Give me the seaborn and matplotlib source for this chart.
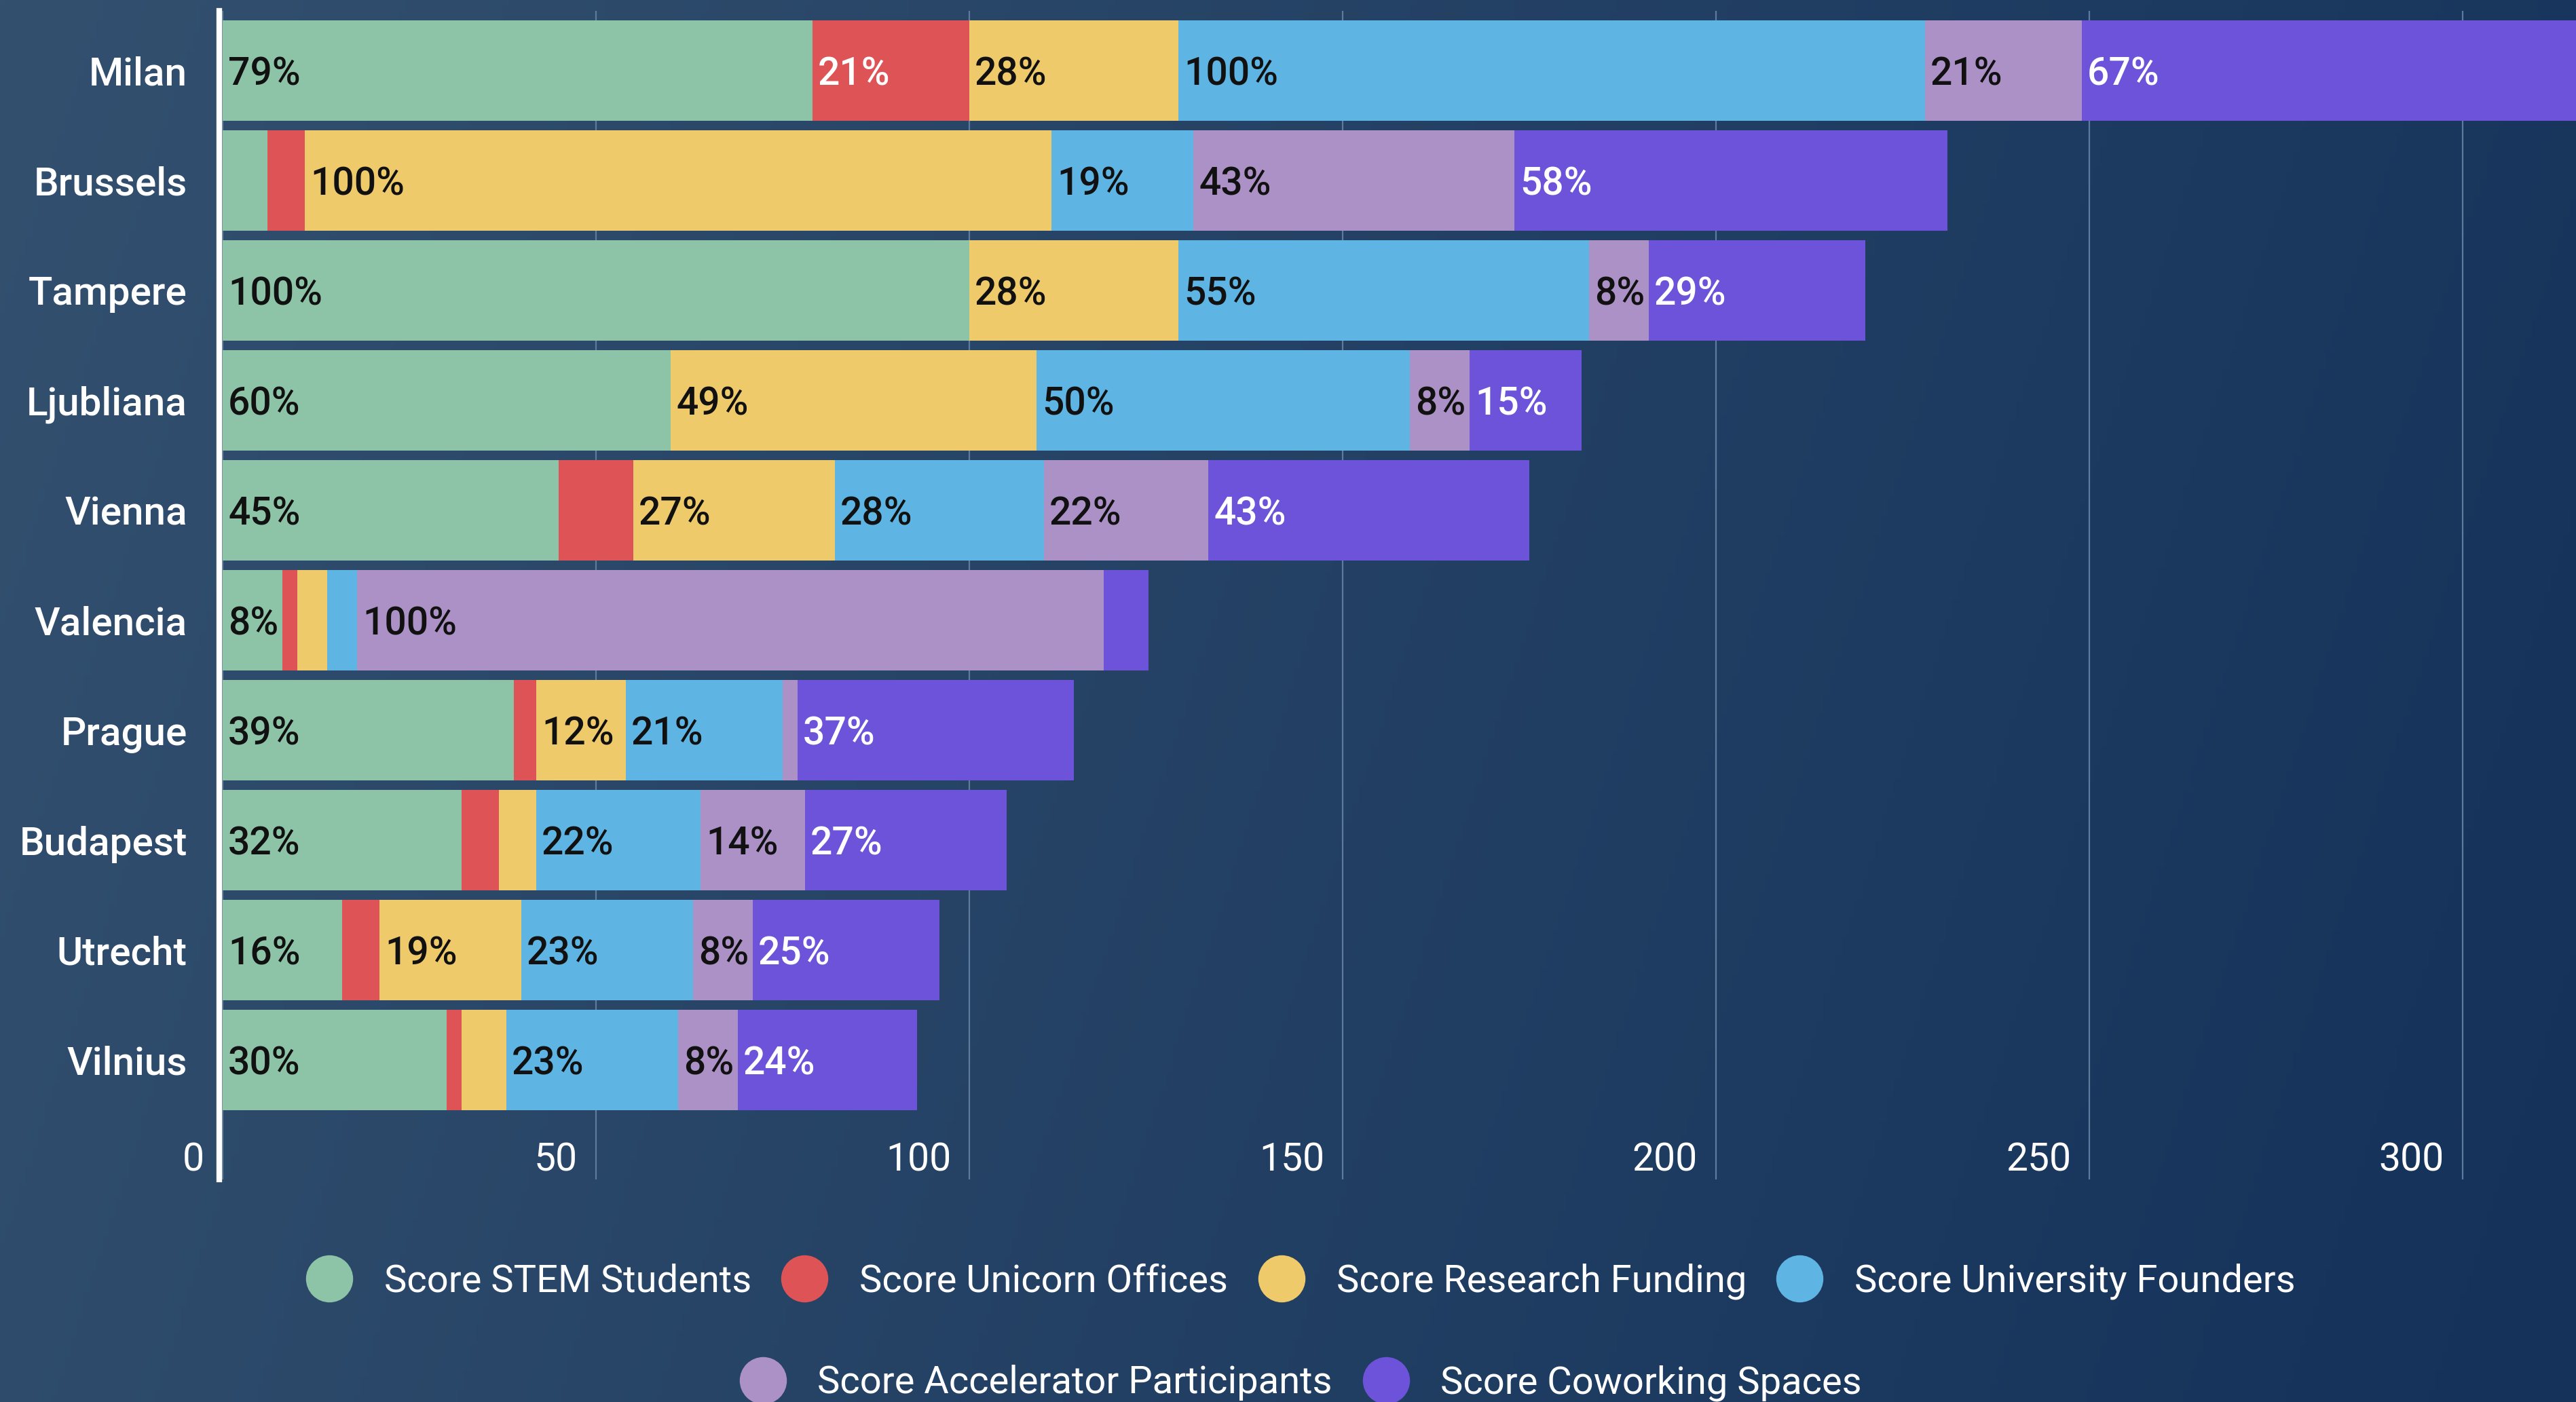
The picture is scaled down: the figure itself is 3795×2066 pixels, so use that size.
import numpy as np
import pandas as pd
import matplotlib
matplotlib.use("Agg")
import matplotlib.pyplot as plt
import seaborn as sns
from matplotlib.transforms import ScaledTranslation
from matplotlib.lines import Line2D
from matplotlib.colors import to_rgb

# ---- data -------------------------------------------------------------
cities = ["Milan", "Brussels", "Tampere", "Ljubliana", "Vienna",
          "Valencia", "Prague", "Budapest", "Utrecht", "Vilnius"]
series_names = ["Score STEM Students", "Score Unicorn Offices",
                "Score Research Funding", "Score University Founders",
                "Score Accelerator Participants", "Score Coworking Spaces"]
stem_students = [79, 6, 100, 60, 45, 8, 39, 32, 16, 30]
unicorn_offices = [21, 5, 0, 0, 10, 2, 3, 5, 5, 2]
research_funding = [28, 100, 28, 49, 27, 4, 12, 5, 19, 6]
university_founders = [100, 19, 55, 50, 28, 4, 21, 22, 23, 23]
accelerator_participants = [21, 43, 8, 8, 22, 100, 2, 14, 8, 8]
coworking_spaces = [67, 58, 29, 15, 43, 6, 37, 27, 25, 24]
x_ticks = [0, 50, 100, 150, 200, 250, 300]

# ---- style ------------------------------------------------------------
series_colors = ["#8DC3A7", "#DE5456", "#EFCA6A", "#5EB5E3", "#AB91C6", "#6C53D9"]
text_colors = ["#111111", "#ffffff", "#111111", "#111111", "#111111", "#ffffff"]

sns.set_theme(style="white")
plt.rcParams["font.family"] = ["Roboto", "DejaVu Sans"]

W, H, DPI = 3795, 2066, 200
fig = plt.figure(figsize=(W / DPI, H / DPI), dpi=DPI)

# dark blue gradient backdrop
bg = fig.add_axes([0, 0, 1, 1], zorder=-10)
gx, gy = np.meshgrid(np.linspace(0, 1, 400), np.linspace(0, 1, 220))
t = np.clip(0.85 * gx + 0.15 * gy, 0, 1)[..., None]
c0 = np.array(to_rgb("#33506F"))
c1 = np.array(to_rgb("#14325A"))
bg.imshow(c0 * (1 - t) + c1 * t, aspect="auto", extent=[0, 1, 0, 1], origin="upper")
bg.axis("off")

# plot area geometry (pixels)
left_px, right_px, top_px, bottom_px = 323, 3795, 16, 1738
ax = fig.add_axes([left_px / W, 1 - bottom_px / H,
                   (right_px - left_px) / W, (bottom_px - top_px) / H])
ax.set_facecolor("none")

# ---- stacked bars -----------------------------------------------------
values = np.array([stem_students, unicorn_offices, research_funding,
                   university_founders, accelerator_participants, coworking_spaces])
cumulative = values.cumsum(axis=0)

for j in reversed(range(len(series_names))):
    df = pd.DataFrame({"city": cities, "total": cumulative[j]})
    sns.barplot(data=df, x="total", y="city", orient="h", color=series_colors[j],
                saturation=1, width=0.91, linewidth=0, ax=ax, zorder=2)

px_per_unit = 11.0
x0 = -(328 - left_px) / px_per_unit
x1 = x0 + (right_px - left_px) / px_per_unit
ax.set_xlim(x0, x1)
ax.set_ylim(10.086, -0.543)

# ---- axes styling -----------------------------------------------------
ax.set_xlabel("")
ax.set_ylabel("")
ax.set_xticks(x_ticks)
ax.set_xticklabels([str(v) for v in x_ticks])
ax.xaxis.grid(True, color="#5F7B9B", linewidth=0.8)
ax.yaxis.grid(False)
ax.set_axisbelow(True)
for s in ["top", "right", "bottom"]:
    ax.spines[s].set_visible(False)
ax.spines["left"].set_color("white")
ax.spines["left"].set_linewidth(3)

ax.tick_params(axis="y", length=0, pad=17, labelsize=21, labelcolor="white")
ax.tick_params(axis="x", length=0, pad=-20, labelsize=20.5, labelcolor="white")
for lab in ax.get_yticklabels():
    lab.set_fontweight("medium")
shift = ScaledTranslation(-27 / DPI, 0, fig.dpi_scale_trans)
for lab in ax.get_xticklabels():
    lab.set_horizontalalignment("right")
    lab.set_transform(lab.get_transform() + shift)

# ---- segment labels (hidden when they don't fit) ----------------------
fig.canvas.draw()
renderer = fig.canvas.get_renderer()
pad = ScaledTranslation(8 / DPI, 0, fig.dpi_scale_trans)
for j in range(len(series_names)):
    for i, city in enumerate(cities):
        v = values[j, i]
        if v <= 0:
            continue
        start = cumulative[j, i] - v
        txt = ax.text(start, i, f"{v}%", ha="left", va="center_baseline",
                      fontsize=20.5, fontweight="medium", color=text_colors[j],
                      transform=ax.transData + pad, zorder=5)
        w = txt.get_window_extent(renderer).width
        seg_px = v * px_per_unit
        if w + 8 + 3 > seg_px:
            txt.remove()

# ---- legend: two centred rows -----------------------------------------
handles = [Line2D([], [], marker="o", linestyle="none", markersize=25,
                  markerfacecolor=c, markeredgewidth=0) for c in series_colors]
leg_kw = dict(frameon=False, fontsize=20.2, labelcolor="white", handlelength=1.2,
              handletextpad=0.84, columnspacing=0.8, loc="center",
              bbox_transform=fig.transFigure, borderpad=0)
leg1 = fig.legend(handles[:4], series_names[:4], ncol=4,
                  bbox_to_anchor=(0.505, 1 - 1888 / H), **leg_kw)
leg2 = fig.legend(handles[4:], series_names[4:], ncol=2,
                  bbox_to_anchor=(0.505, 1 - 2038 / H), **leg_kw)

fig.savefig("out.png", dpi=DPI)
